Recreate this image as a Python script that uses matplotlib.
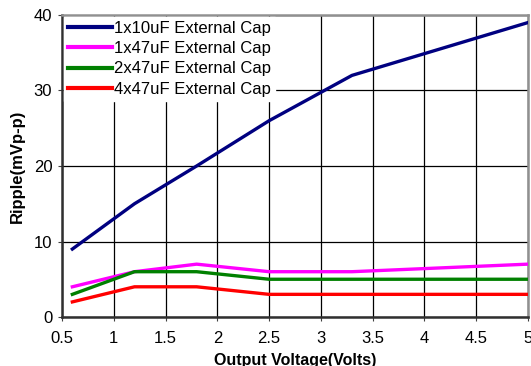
import matplotlib
matplotlib.use("Agg")
import matplotlib.pyplot as plt

plt.rcParams['font.family'] = ['Liberation Sans', 'DejaVu Sans']

voltage = [0.6, 1.2, 1.8, 2.5, 3.3, 5.0]
cap_1x10 = [9, 15, 20, 26, 32, 39]
cap_1x47 = [4, 6, 7, 6, 6, 7]
cap_2x47 = [3, 6, 6, 5, 5, 5]
cap_4x47 = [2, 4, 4, 3, 3, 3]
labels = ["1x10uF External Cap", "1x47uF External Cap",
          "2x47uF External Cap", "4x47uF External Cap"]
colors = ["#000080", "#FF00FF", "#008000", "#FF0000"]
xticks = [0.5, 1, 1.5, 2, 2.5, 3, 3.5, 4, 4.5, 5]
yticks = [0, 10, 20, 30, 40]

fig = plt.figure(figsize=(5.31, 3.66), dpi=100)
ax = fig.add_axes([62/531, 1-317/366, (528-62)/531, (317-15)/366])

for ys, lab, c in zip([cap_1x10, cap_1x47, cap_2x47, cap_4x47], labels, colors):
    ax.plot(voltage, ys, color=c, lw=2.4, label=lab, zorder=3)

ax.set_xlim(0.5, 5)
ax.set_ylim(0, 40)
ax.set_xticks(xticks)
ax.set_xticklabels([f"{t:g}" for t in xticks])
ax.set_yticks(yticks)
ax.grid(True, color="black", lw=0.9)
ax.set_axisbelow(True)
ax.tick_params(axis='both', labelsize=12, length=3, width=0.8, color="#404040")
ax.tick_params(axis='x', pad=7)
ax.tick_params(axis='y', pad=4)

for side in ['left', 'bottom']:
    ax.spines[side].set_color("#303030")
    ax.spines[side].set_linewidth(1.8)
for side in ['top', 'right']:
    ax.spines[side].set_color("#909090")
    ax.spines[side].set_linewidth(1.8)

ax.set_ylabel("Ripple(mVp-p)", fontsize=12, fontweight='bold', labelpad=6)
ax.set_xlabel("Output Voltage(Volts)", fontsize=11.5, fontweight='bold', labelpad=5)

leg = ax.legend(loc='upper left', bbox_to_anchor=(0.005, 0.995), fontsize=12,
                frameon=True, fancybox=False, handlelength=2.6,
                handletextpad=0.15, labelspacing=0.32, borderpad=0.25,
                borderaxespad=0.0)
leg.get_frame().set_facecolor("white")
leg.get_frame().set_edgecolor("white")
leg.get_frame().set_alpha(1)
for line in leg.get_lines():
    line.set_linewidth(3)

fig.savefig("out.png", dpi=100)
